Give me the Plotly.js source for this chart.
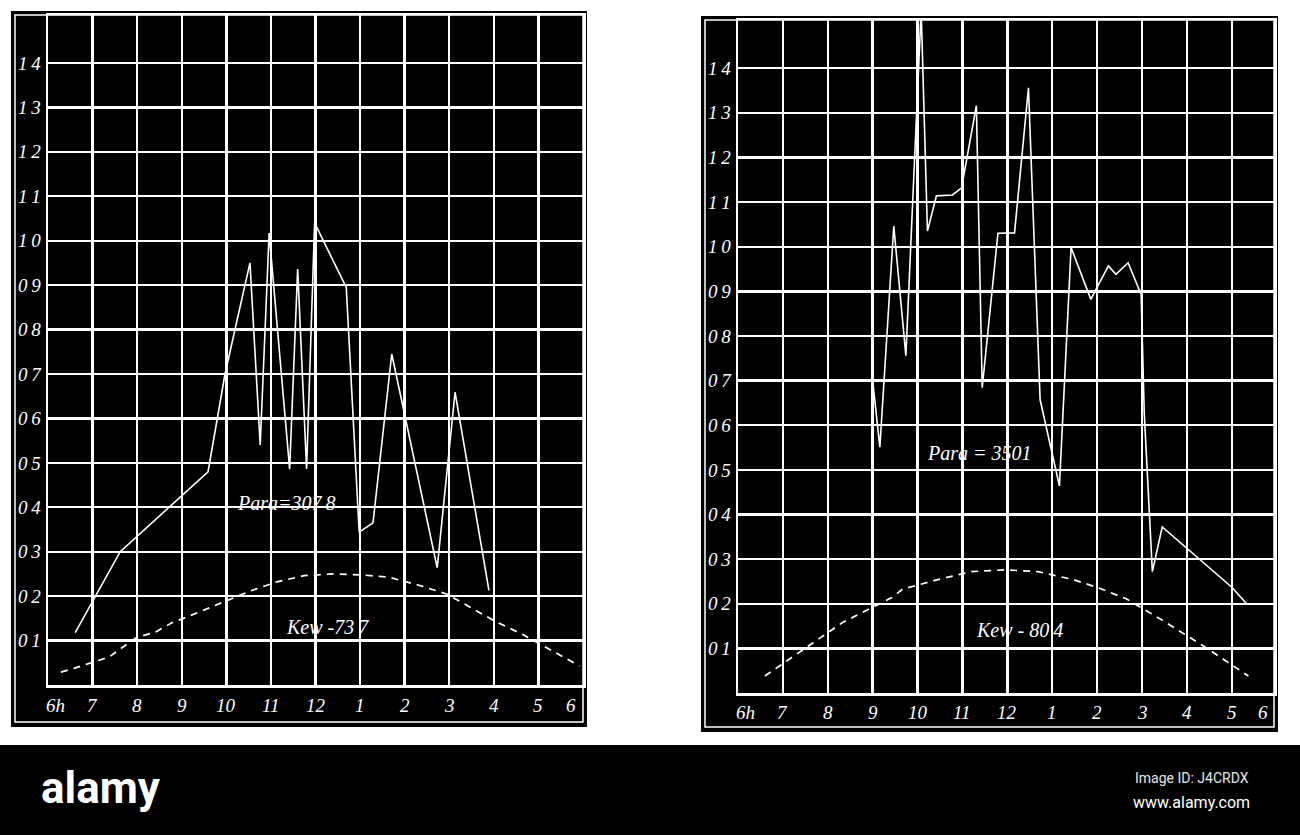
<!DOCTYPE html>
<html>
<head>
<meta charset="utf-8">
<script src="https://cdn.plot.ly/plotly-3.0.1.min.js"></script>
<style>
html,body{margin:0;padding:0;background:#ffffff;}
#chart{width:1300px;height:835px;}
</style>
</head>
<body>
<div id="chart"></div>
<script>
// ---- axis ticks / labels ----
const hourTicks = [6,7,8,9,10,11,12,13,14,15,16,17,18];
const hourLabels = ["6h","7","8","9","10","11","12","1","2","3","4","5","6"];
const valueTicks = [1,2,3,4,5,6,7,8,9,10,11,12,13,14];
const valueLabels = ["0\u20091","0\u20092","0\u20093","0\u20094","0\u20095","0\u20096","0\u20097","0\u20098","0\u20099","1\u20090","1\u20091","1\u20092","1\u20093","1\u20094"];

// ---- left chart (Para = 307.8, Kew = 73.7) ----
const leftParaHours  = [6.61, 7.62, 9.59, 9.97, 10.53, 10.76, 10.96, 11.42, 11.60, 11.80, 11.98, 12.69, 12.98, 13.29, 13.71, 14.73, 15.13, 15.89];
const leftParaValues = [1.18, 3.00, 4.80, 7.00, 9.50, 5.40, 10.17, 4.86, 9.36, 4.86, 10.40, 8.95, 3.44, 3.65, 7.45, 2.64, 6.59, 2.13];
const leftKewHours  = [6.29, 6.60, 7.37, 7.97, 8.43, 8.78, 9.34, 9.98, 10.52, 11.13, 11.74, 12.36, 13.00, 13.63, 14.30, 14.94, 15.42, 16.00, 16.64, 17.20, 17.92];
const leftKewValues = [0.29, 0.38, 0.63, 1.06, 1.20, 1.40, 1.62, 1.89, 2.11, 2.32, 2.46, 2.50, 2.48, 2.43, 2.25, 2.05, 1.77, 1.45, 1.14, 0.83, 0.43];
const leftParaLabel = "Para=307\u20098";
const leftKewLabel  = "Kew -73\u20097";

// ---- right chart (Para = 350.1, Kew = 80.4) ----
const rightParaHours  = [9.00, 9.16, 9.47, 9.74, 10.08, 10.22, 10.42, 10.78, 10.98, 11.31, 11.44, 11.79, 12.16, 12.47, 12.73, 13.16, 13.42, 13.86, 14.25, 14.42, 14.69, 14.98, 15.05, 15.23, 15.45, 17.00, 17.33];
const rightParaValues = [7.00, 5.51, 10.46, 7.56, 15.30, 10.35, 11.14, 11.16, 11.32, 13.16, 6.84, 10.30, 10.31, 13.56, 6.57, 4.64, 9.98, 8.82, 9.57, 9.38, 9.64, 8.93, 6.27, 2.72, 3.72, 2.37, 2.00];
const rightKewHours  = [6.60, 8.33, 9.43, 9.67, 10.45, 11.20, 11.94, 12.68, 13.47, 14.02, 14.65, 15.42, 16.42, 17.37];
const rightKewValues = [0.38, 1.58, 2.14, 2.33, 2.54, 2.72, 2.76, 2.72, 2.54, 2.36, 2.11, 1.65, 1.02, 0.38];
const rightParaLabel = "Para = 3501";
const rightKewLabel  = "Kew - 80\u20094";

// ---- styling / layout helpers ----
const W = 1300, H = 835;
const px = v => v / W;
const py = v => 1 - v / H;
const serif = "Liberation Serif, DejaVu Serif, serif";
const tickFont = {family: serif, size: 19, color: "#ffffff", style: "italic"};

function lineTrace(x, y, xa, ya, dash) {
  return {x: x, y: y, xaxis: xa, yaxis: ya, type: "scatter", mode: "lines",
    line: {color: "#ffffff", width: dash ? 1.7 : 1.6, dash: dash || "solid"},
    hoverinfo: "skip", showlegend: false, cliponaxis: true};
}

const data = [
  lineTrace(leftKewHours, leftKewValues, "x", "y", "7px,6px"),
  lineTrace(leftParaHours, leftParaValues, "x", "y"),
  lineTrace(rightKewHours, rightKewValues, "x2", "y2", "7px,6px"),
  lineTrace(rightParaHours, rightParaValues, "x2", "y2")
];

function xAxis(domain, range, anchor) {
  return {domain: domain, range: range, anchor: anchor, tickmode: "linear", tick0: 6, dtick: 1,
    showgrid: true, gridcolor: "#ffffff", gridwidth: 2.4, zeroline: false,
    showline: true, linecolor: "#ffffff", linewidth: 2.5, mirror: true,
    showticklabels: false, ticks: "", fixedrange: true};
}
function yAxis(domain, range, anchor) {
  return {domain: domain, range: range, anchor: anchor, tickmode: "array",
    tickvals: valueTicks, ticktext: valueLabels, tickfont: tickFont,
    showgrid: true, gridcolor: "#ffffff", gridwidth: 2.4, zeroline: false,
    showline: true, linecolor: "#ffffff", linewidth: 2.5, mirror: true,
    ticks: "", ticklabelstandoff: 1, fixedrange: true};
}

const layout = {
  width: W, height: H,
  margin: {l: 0, r: 0, t: 0, b: 0, pad: 0},
  paper_bgcolor: "#ffffff", plot_bgcolor: "#000000",
  showlegend: false,
  xaxis:  xAxis([px(48), px(583)], [6, 18.0], "y"),
  yaxis:  yAxis([py(685), py(15)], [0, 15.08], "x"),
  xaxis2: xAxis([px(738), px(1274)], [6, 17.94], "y2"),
  yaxis2: yAxis([py(693), py(20)], [0, 15.08], "x2"),
  shapes: [
    // left panel frame
    {type: "rect", xref: "paper", yref: "paper", x0: px(11), x1: px(587), y0: py(727), y1: py(11),
     fillcolor: "#000000", line: {width: 0}, layer: "below"},
    {type: "rect", xref: "paper", yref: "paper", x0: px(15), x1: px(583), y0: py(722), y1: py(15),
     fillcolor: "rgba(0,0,0,0)", line: {color: "#ffffff", width: 1.5}, layer: "below"},
    // right panel frame
    {type: "rect", xref: "paper", yref: "paper", x0: px(701), x1: px(1278), y0: py(732), y1: py(16),
     fillcolor: "#000000", line: {width: 0}, layer: "below"},
    {type: "rect", xref: "paper", yref: "paper", x0: px(705), x1: px(1274), y0: py(727), y1: py(20),
     fillcolor: "rgba(0,0,0,0)", line: {color: "#ffffff", width: 1.5}, layer: "below"},
    // bottom band
    {type: "rect", xref: "paper", yref: "paper", x0: 0, x1: 1, y0: 0, y1: py(745),
     fillcolor: "#000000", line: {width: 0}, layer: "below"}
  ],
  annotations: []
};

// x tick labels as annotations (the end labels sit inside the frame)
function addHourLabels(xref, lastPos, yPix) {
  hourTicks.forEach((h, i) => {
    let pos = h;
    if (i === 0) pos = h + 0.16;
    if (i === hourTicks.length - 1) pos = lastPos;
    layout.annotations.push({xref: xref, yref: "paper", x: pos, y: py(yPix), text: hourLabels[i],
      showarrow: false, xanchor: "center", yanchor: "middle", font: tickFont});
  });
}
addHourLabels("x", 17.74, 705);
addHourLabels("x2", 17.69, 712);

function addText(xref, yref, x, y, text) {
  layout.annotations.push({xref: xref, yref: yref, x: x, y: y, text: text, showarrow: false,
    xanchor: "center", yanchor: "middle",
    font: {family: serif, size: 20, color: "#ffffff", style: "italic"}});
}
addText("x", "y", 11.36, 4.1, leftParaLabel);
addText("x", "y", 12.26, 1.3, leftKewLabel);
addText("x2", "y2", 11.37, 5.38, rightParaLabel);
addText("x2", "y2", 12.28, 1.41, rightKewLabel);

// bottom band texts
const narrow = "Roboto, Liberation Sans Narrow, sans-serif";
layout.annotations.push({xref: "paper", yref: "paper", x: px(101), y: py(788), text: "<b>alamy</b>",
  showarrow: false, xanchor: "center", yanchor: "middle", font: {family: narrow, size: 44, color: "#ffffff"}});
layout.annotations.push({xref: "paper", yref: "paper", x: px(1251), y: py(778), text: "Image ID: J4CRDX",
  showarrow: false, xanchor: "right", yanchor: "middle", font: {family: narrow, size: 14, color: "#e6e6e6"}});
layout.annotations.push({xref: "paper", yref: "paper", x: px(1252), y: py(802), text: "www.alamy.com",
  showarrow: false, xanchor: "right", yanchor: "middle", font: {family: narrow, size: 16, color: "#ffffff"}});

Plotly.newPlot("chart", data, layout, {displayModeBar: false, staticPlot: true});
</script>
</body>
</html>
